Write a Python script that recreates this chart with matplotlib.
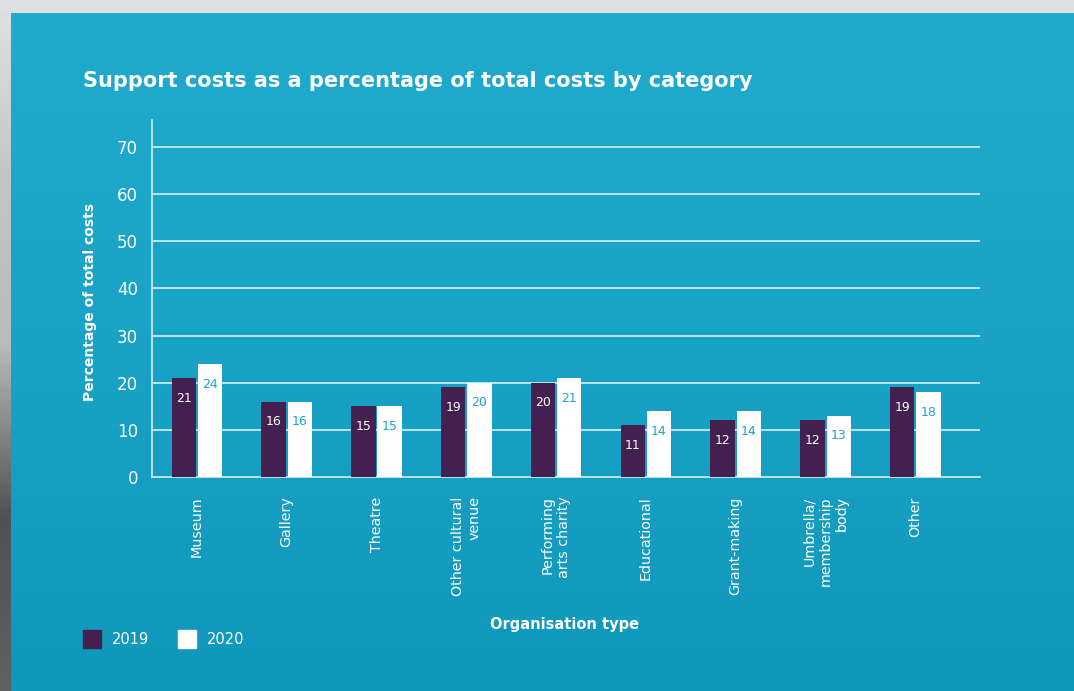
import numpy as np
import matplotlib.pyplot as plt
from matplotlib.colors import LinearSegmentedColormap
from matplotlib.patches import Rectangle

# Support costs as % of total costs, by organisation type
categories = ['Museum', 'Gallery', 'Theatre', 'Other cultural\nvenue',
              'Performing\narts charity', 'Educational', 'Grant-making',
              'Umbrella/\nmembership\nbody', 'Other']
pct_2019 = [21, 16, 15, 19, 20, 11, 12, 12, 19]
pct_2020 = [24, 16, 15, 20, 21, 14, 14, 13, 18]
yticks = [0, 10, 20, 30, 40, 50, 60, 70]

purple = '#43204f'
label_blue = '#1aa6cb'
line_col = '#d6eff6'

fig = plt.figure(figsize=(10.74, 6.91), dpi=100)

# backdrop: grey surround with a teal panel
bg = fig.add_axes([0, 0, 1, 1], zorder=-10)
bg.set_axis_off()
grey = np.linspace(0, 1, 200).reshape(-1, 1)
bg.imshow(grey, extent=[0, 1074, 691, 0], aspect='auto',
          cmap=LinearSegmentedColormap.from_list(
              'g', ['#dfe2e3', '#c4c6c6', '#b9bbbb', '#4f5254', '#5f6263']))
teal = np.linspace(0, 1, 200).reshape(-1, 1)
bg.imshow(teal, extent=[11, 1074, 691, 13], aspect='auto',
          cmap=LinearSegmentedColormap.from_list(
              't', ['#20aacd', '#1ba6c9', '#169fc3', '#0f98bc']))
bg.set_xlim(0, 1074)
bg.set_ylim(691, 0)

ax = fig.add_axes([152 / 1074, 1 - 477 / 691, (980 - 152) / 1074,
                   (477 - 120) / 691])
ax.patch.set_alpha(0)

x = np.arange(len(categories))
w = 0.27
ax.bar(x - w / 2 - 0.011, pct_2019, w, color=purple, zorder=3)
ax.bar(x + w / 2 + 0.011, pct_2020, w, color='white', zorder=3)

for xi, a, b in zip(x, pct_2019, pct_2020):
    ax.text(xi - w / 2 - 0.011, a - 4.3, str(a), ha='center', va='center',
            color='white', fontsize=9, zorder=4)
    ax.text(xi + w / 2 + 0.011, b - 4.3, str(b), ha='center', va='center',
            color=label_blue, fontsize=9, zorder=4)

ax.set_xlim(-0.5, 8.72)
ax.set_ylim(0, 75.7)
ax.set_yticks(yticks)
for t in yticks[1:]:
    ax.axhline(t, color=line_col, lw=1.2, zorder=1)

for s in ['top', 'right']:
    ax.spines[s].set_visible(False)
for s in ['left', 'bottom']:
    ax.spines[s].set_color(line_col)
    ax.spines[s].set_linewidth(1.2)

ax.tick_params(axis='y', length=0, labelsize=12, labelcolor='white', pad=10)
ax.tick_params(axis='x', length=0, labelsize=10.3, labelcolor='white', pad=14)
ax.set_xticks(x)
ax.set_xticklabels(categories, rotation=90, va='top', ha='center',
                   multialignment='right')

ax.set_ylabel('Percentage of total costs', color='white', fontsize=10,
              fontweight='bold')
ax.yaxis.set_label_coords(-0.066, 0.49)

fig.text(565 / 1074, 1 - 625 / 691, 'Organisation type', color='white',
         fontsize=10.5, fontweight='bold', ha='center', va='center')
fig.text(83 / 1074, 1 - 81 / 691,
         'Support costs as a percentage of total costs by category',
         color='white', fontsize=15, fontweight='bold', ha='left',
         va='center')

# legend squares
for lx, col, lab in [(83, purple, '2019'), (178, 'white', '2020')]:
    bg.add_patch(Rectangle((lx, 630), 18, 18, color=col))
    bg.text(lx + 29, 639, lab, color='white', fontsize=10.5,
            va='center', ha='left')

fig.savefig('out.png', dpi=100)
